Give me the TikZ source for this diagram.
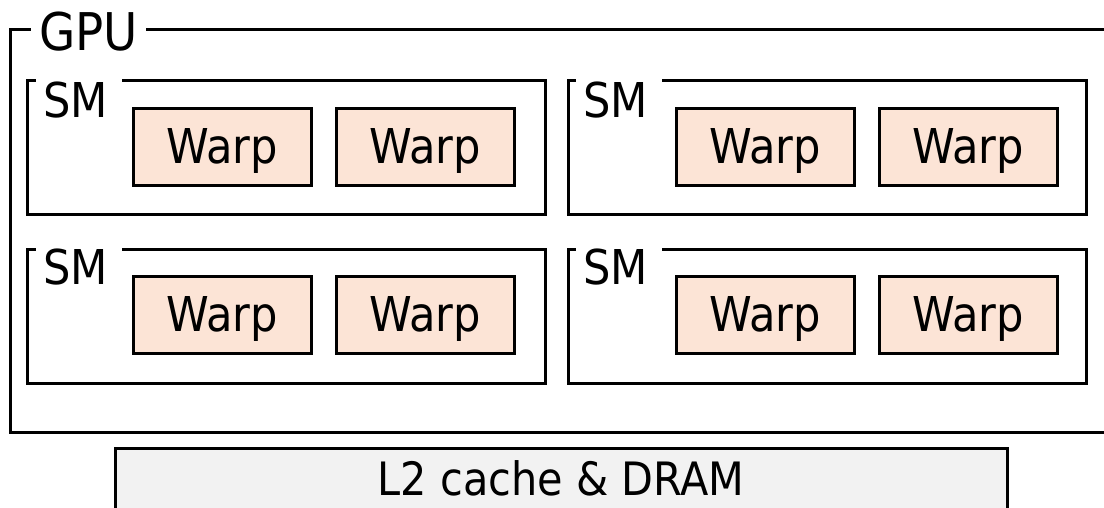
\documentclass[tikz,border=0pt]{standalone}
\usepackage{fontspec}
\setmainfont{DejaVu Sans Condensed}
\definecolor{warpfill}{HTML}{FCE4D6}
\definecolor{memfill}{HTML}{F2F2F2}
\tikzset{
  frame/.style={draw=black, line width=3pt},
  smbox/.style={frame, rectangle, inner sep=0pt, minimum width=518pt, minimum height=134pt},
  warpbox/.style={frame, rectangle, fill=warpfill, inner sep=0pt,
    minimum width=178pt, minimum height=77pt, text height=35pt, text depth=3pt,
    font=\fontsize{48}{56}\selectfont},
  tag/.style={fill=white, inner xsep=7pt, inner ysep=5pt, anchor=base west},
}
\begin{document}
\begin{tikzpicture}[x=1pt,y=-1pt]
  \clip (0,0) rectangle (1104,507);
  % outer GPU frame, running off the right edge
  \draw[frame] (10,29) rectangle (1130,432);
  \node[tag, inner xsep=8pt, font=\fontsize{52}{60}\selectfont] (gpu) at (31,50) {GPU};

  % four streaming multiprocessors
  \node[smbox] (sm1) at (286,147) {};
  \node[smbox] (sm2) at (827,147) {};
  \node[smbox] (sm3) at (286,316) {};
  \node[smbox] (sm4) at (827,316) {};
  \foreach \s/\x/\y in {sm1/36/117, sm2/576/117, sm3/36/284, sm4/576/284}
    \node[tag, inner xsep=7pt, minimum width=86pt, align=left, text width=72pt, font=\fontsize{48}{56}\selectfont] (\s label) at (\x,\y) {SM};

  % two warps per SM
  \node[warpbox] (w11) at (222,147) {Warp};
  \node[warpbox] (w12) at (425,147) {Warp};
  \node[warpbox] (w21) at (765,147) {Warp};
  \node[warpbox] (w22) at (968,147) {Warp};
  \node[warpbox] (w31) at (222,315) {Warp};
  \node[warpbox] (w32) at (425,315) {Warp};
  \node[warpbox] (w41) at (765,315) {Warp};
  \node[warpbox] (w42) at (968,315) {Warp};

  % memory below the chip
  \draw[frame, fill=memfill] (115,448) rectangle (1007,530);
  \node[anchor=base, font=\fontsize{46}{54}\selectfont] (mem) at (561,495) {L2 cache \& DRAM};
\end{tikzpicture}
\end{document}
